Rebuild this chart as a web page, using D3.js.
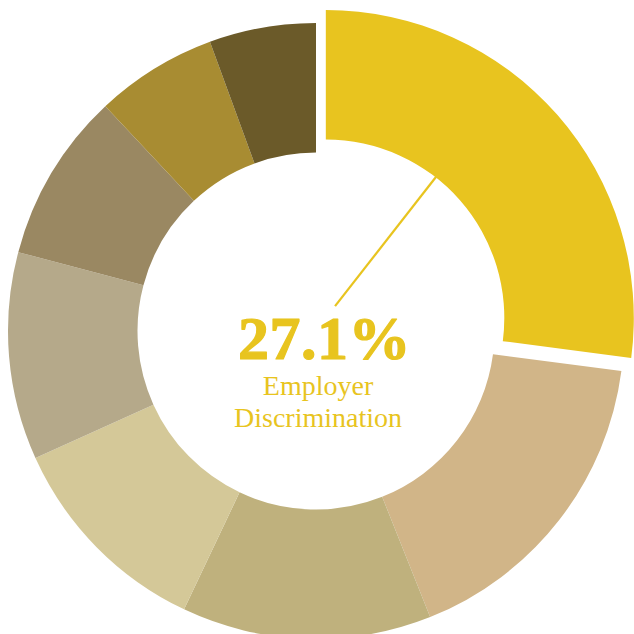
<!DOCTYPE html>
<html>
<head>
<meta charset="utf-8">
<script src="https://cdn.jsdelivr.net/npm/d3@7"></script>
<style>
  html, body { margin: 0; padding: 0; background: #ffffff; }
  svg { display: block; }
</style>
</head>
<body>
<svg id="chart" width="634" height="634"></svg>
<script>
// Share of responses per category (percent), clockwise from 12 o'clock
const categories = ["Employer Discrimination", "Category B", "Category C", "Category D",
                    "Category E", "Category F", "Category G", "Category H"];
const shares = [27.1, 16.9, 13.1, 11.2, 10.9, 8.9, 6.4, 5.6];
const colors = ["#E8C41F", "#D1B588", "#BFB17D", "#D4C898",
                "#B5A98A", "#9A8862", "#A88C32", "#6B5A29"];
const highlightLabel = ["Employer", "Discrimination"];

const width = 634, height = 634;
const cx = 316, cy = 331;
const outerR = 308, innerR = 178.5;
const explodeDist = 16.3;
const explodeAngle = 37 * Math.PI / 180;

const svg = d3.select("#chart");

const pie = d3.pie().sort(null).value(d => d);
const arcs = pie(shares);
const arc = d3.arc().innerRadius(innerR).outerRadius(outerR);

const color = d3.scaleOrdinal().domain(d3.range(shares.length)).range(colors);

const g = svg.append("g").attr("transform", `translate(${cx},${cy})`);

g.selectAll("path.slice")
  .data(arcs)
  .join("path")
  .attr("class", "slice")
  .attr("d", arc)
  .attr("fill", (d, i) => color(i))
  .attr("transform", (d, i) => i === 0
    ? `translate(${explodeDist * Math.sin(explodeAngle)},${-explodeDist * Math.cos(explodeAngle)})`
    : null);

// Callout for the highlighted (exploded) slice
const hx = explodeDist * Math.sin(explodeAngle);
const hy = -explodeDist * Math.cos(explodeAngle);
const lineAngle = 38 * Math.PI / 180;
const hl = g.append("g").attr("transform", `translate(${hx},${hy})`);

hl.append("line")
  .attr("x1", 15 * Math.sin(lineAngle))
  .attr("y1", -15 * Math.cos(lineAngle))
  .attr("x2", (innerR + 1) * Math.sin(lineAngle))
  .attr("y2", -(innerR + 1) * Math.cos(lineAngle))
  .attr("stroke", colors[0])
  .attr("stroke-width", 2.2);

const pct = d3.format(".1f");
g.append("text")
  .attr("x", 8.5)
  .attr("y", 28)
  .attr("text-anchor", "middle")
  .attr("font-family", "'Liberation Serif', serif")
  .attr("font-weight", "bold")
  .attr("font-size", 62)
  .attr("letter-spacing", 0.5)
  .attr("fill", colors[0])
  .attr("stroke", colors[0])
  .attr("stroke-width", 1.2)
  .attr("stroke-linejoin", "round")
  .text(pct(shares[0]) + "%");

g.append("text")
  .attr("text-anchor", "middle")
  .attr("font-family", "'Liberation Serif', serif")
  .attr("font-size", 28)
  .attr("fill", colors[0])
  .selectAll("tspan")
  .data(highlightLabel)
  .join("tspan")
  .attr("x", 2)
  .attr("y", (d, i) => 64 + i * 32)
  .text(d => d);
</script>
</body>
</html>
